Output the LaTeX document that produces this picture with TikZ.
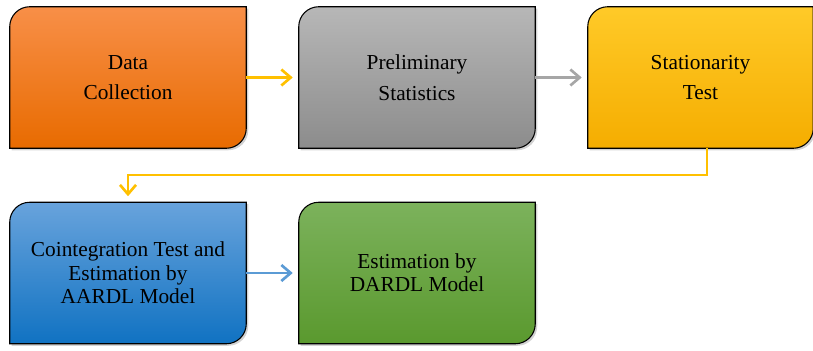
\documentclass[tikz,border=0pt]{standalone}
\usepackage{fontspec}
\setmainfont{Liberation Serif}
\usetikzlibrary{arrows.meta,shadows,backgrounds}

\definecolor{orangetop}{RGB}{248,143,72}
\definecolor{orangebot}{RGB}{232,107,0}
\definecolor{graytop}{RGB}{183,183,183}
\definecolor{graybot}{RGB}{140,140,140}
\definecolor{goldtop}{RGB}{255,202,40}
\definecolor{goldbot}{RGB}{245,173,0}
\definecolor{bluetop}{RGB}{104,163,220}
\definecolor{bluebot}{RGB}{16,114,194}
\definecolor{greentop}{RGB}{124,178,92}
\definecolor{greenbot}{RGB}{90,153,46}
\definecolor{goldline}{RGB}{255,192,0}
\definecolor{grayline}{RGB}{166,166,166}
\definecolor{blueline}{RGB}{91,155,213}

\tikzset{
  stage/.style={minimum width=177pt, minimum height=105.75pt, inner sep=0pt,
    align=center, font=\fontsize{16}{23}\selectfont},
  flow/.style={line width=2pt, shorten >=4.5pt,
    -{Straight Barb[length=7pt,width=12pt,line width=2pt]}},
}
\newcommand{\stagebox}[3]{%
  \path[draw=black, line width=0.8pt, top color=#2, bottom color=#3,
    drop shadow={shadow xshift=1.5pt, shadow yshift=-1.5pt, opacity=0.35}]
    (#1.south west) -- ([yshift=-15pt]#1.north west)
    arc[start angle=180, end angle=90, radius=15pt]
    -- (#1.north east) -- ([yshift=15pt]#1.south east)
    arc[start angle=0, end angle=-90, radius=15pt] -- cycle;}

\begin{document}
\begin{tikzpicture}[x=0.75pt,y=-0.75pt]
  \useasboundingbox (0,0) rectangle (813,350);

  \node [stage] (data) at (128,77.5) {Data\\Collection};
  \node [stage] (prelim) at (417,77.5) {Preliminary\\Statistics};
  \node [stage, minimum width=168.75pt] (station) at (700.5,77.5) {Stationarity\\Test};
  \node [stage, font=\fontsize{16}{17.5}\selectfont] (aardl) at (128,273)
    {Cointegration Test and\\Estimation by\\AARDL Model};
  \node [stage, font=\fontsize{16}{17.5}\selectfont] (dardl) at (417,273)
    {Estimation by\\DARDL Model};

  \begin{scope}[on background layer]
    \stagebox{data}{orangetop}{orangebot}
    \stagebox{prelim}{graytop}{graybot}
    \stagebox{station}{goldtop}{goldbot}
    \stagebox{aardl}{bluetop}{bluebot}
    \stagebox{dardl}{greentop}{greenbot}
  \end{scope}

  \draw [flow, goldline] (data) -- (prelim);
  \draw [flow, grayline] (prelim) -- (station);
  \draw [flow, goldline, line width=1.6pt] ([xshift=5pt]station.south) -- ++(0,27) -| (aardl.north);
  \draw [flow, blueline] (aardl) -- (dardl);
\end{tikzpicture}
\end{document}
